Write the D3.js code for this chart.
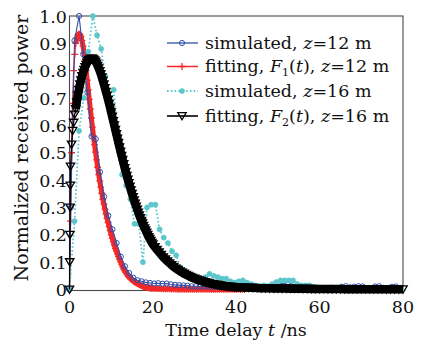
<!DOCTYPE html>
<html><head><meta charset="utf-8">
<script src="https://cdn.jsdelivr.net/npm/d3@7"></script>
<style>body{margin:0;background:#fff} text{font-family:"DejaVu Serif", serif;}</style>
</head><body><svg id="c" width="422" height="345"></svg>
<script>
// ---------- data ----------
const xTicks = [0, 20, 40, 60, 80];
const xTickLabels = ["0", "20", "40", "60", "80"];
const yTicks = [0, 0.1, 0.2, 0.3, 0.4, 0.5, 0.6, 0.7, 0.8, 0.9, 1.0];
const yTickLabels = ["0", "0.1", "0.2", "0.3", "0.4", "0.5", "0.6", "0.7", "0.8", "0.9", "1.0"];

// simulated, z = 12 m
const tBlue = [0, 0.3, 1.2].concat(d3.range(2.3, 79.4, 1));
const vBlue = [0, 0.3, 0.91,
  1.0, 0.86, 0.72, 0.56, 0.55, 0.43, 0.34, 0.27,
  0.22, 0.17, 0.12, 0.085, 0.06, 0.043, 0.034, 0.03, 0.026, 0.024,
  0.022, 0.023, 0.021, 0.022, 0.019, 0.017, 0.016, 0.015, 0.014, 0.012,
  0.012, 0.011, 0.010, 0.011, 0.009, 0.010, 0.009, 0.008, 0.009, 0.008,
  0.007, 0.008, 0.007, 0.006, 0.008, 0.007, 0.006, 0.007, 0.008, 0.012,
  0.02, 0.022, 0.018, 0.012, 0.008, 0.007, 0.008, 0.006, 0.007, 0.006,
  0.005, 0.006, 0.005, 0.006, 0.005, 0.010, 0.012, 0.008, 0.010, 0.012,
  0.011, 0.006, 0.005, 0.011, 0.012, 0.006, 0.005, 0.010, 0.011, 0.006];

// fitting F1(t), z = 12 m
const tRed = d3.range(0, 20.01, 0.25).concat(d3.range(20.5, 42.01, 0.5));
const vRed = [0, 0.25, 0.5, 0.68, 0.80, 0.86, 0.90, 0.92, 0.93, 0.935, 0.933, 0.925, 0.91, 0.89, 0.865, 0.835,
  0.80, 0.765, 0.73, 0.695, 0.66, 0.627, 0.594, 0.562, 0.53, 0.502, 0.474, 0.447, 0.42, 0.397, 0.374, 0.352,
  0.33, 0.312, 0.294, 0.277, 0.26, 0.245, 0.23, 0.215, 0.20, 0.187, 0.174, 0.162, 0.15, 0.14, 0.13, 0.12,
  0.11, 0.101, 0.092, 0.083, 0.075, 0.068, 0.062, 0.056, 0.05, 0.046, 0.042, 0.038, 0.035, 0.032, 0.029, 0.026,
  0.024, 0.022, 0.020, 0.018, 0.016, 0.014, 0.013, 0.011, 0.010, 0.009, 0.008, 0.007, 0.006, 0.0055, 0.005, 0.0045, 0.004,
  0.0035, 0.003, 0.003, 0.0025, 0.0025, 0.002, 0.002, 0.002, 0.0015, 0.0015,
  0.0015, 0.001, 0.001, 0.001, 0.001, 0.001, 0.0008, 0.0008, 0.0008, 0.0007,
  0.0007, 0.0006, 0.0006, 0.0006, 0.0005, 0.0005, 0.0005, 0.0004, 0.0004, 0.0004,
  0.0004, 0.0003, 0.0003, 0.0003, 0.0003, 0.0002, 0.0002, 0.0002, 0.0002, 0.0002,
  0.0001, 0.0001, 0.0001, 0.0001];

// simulated, z = 16 m
const tCyan = [0, 1.2, 2.3, 3.4, 4.5].concat(d3.range(5.6, 80, 1));
const vCyan = [0, 0.25, 0.58, 0.7, 0.87,
  1.0, 0.93, 0.88, 0.78, 0.65, 0.73, 0.55, 0.42, 0.38, 0.33,
  0.24, 0.24, 0.10, 0.30, 0.31, 0.31, 0.22, 0.19, 0.17, 0.14,
  0.125, 0.08, 0.07, 0.05, 0.04, 0.033, 0.03, 0.045, 0.057, 0.05,
  0.045, 0.04, 0.04, 0.03, 0.025, 0.03, 0.033, 0.025, 0.02, 0.015,
  0.012, 0.015, 0.012, 0.02, 0.027, 0.033, 0.033, 0.033, 0.033, 0.02,
  0.015, 0.015, 0.015, 0.01, 0.008, 0.005, 0.005, 0.008, 0.004,
  0.003, 0.004, 0.003, 0.002, 0.003, 0.002, 0.002, 0.003, 0.002, 0.002, 0.001, 0.002, 0.001, 0.001, 0.002, 0.001];

// fitting F2(t), z = 16 m
const tBlack = [0, 0.05, 0.1, 0.15, 0.2].concat(d3.range(0.25, 20.01, 0.25), d3.range(20.5, 40.01, 0.5), d3.range(41, 80.01, 1));
const vBlack = [0, 0.1, 0.2, 0.3, 0.38,
  0.45, 0.53, 0.58, 0.61, 0.64, 0.66, 0.685, 0.71, 0.73, 0.75, 0.765, 0.78, 0.792, 0.803, 0.813, 0.822,
  0.829, 0.835, 0.839, 0.842, 0.844, 0.844, 0.842, 0.838, 0.833, 0.826, 0.818, 0.809, 0.799, 0.788, 0.776, 0.763,
  0.75, 0.737, 0.723, 0.709, 0.694, 0.679, 0.664, 0.648, 0.632, 0.616, 0.6, 0.584, 0.568, 0.552, 0.536, 0.52,
  0.504, 0.489, 0.474, 0.459, 0.444, 0.43, 0.416, 0.402, 0.389, 0.376, 0.363, 0.35, 0.338, 0.326, 0.314, 0.303,
  0.292, 0.281, 0.271, 0.261, 0.251, 0.242, 0.233, 0.224, 0.216, 0.208, 0.2, 0.192, 0.185, 0.178, 0.171, 0.165,
  0.155, 0.145, 0.136, 0.127, 0.118, 0.11, 0.103, 0.096, 0.089, 0.083,
  0.077, 0.072, 0.067, 0.062, 0.058, 0.054, 0.05, 0.046, 0.043, 0.04,
  0.037, 0.034, 0.032, 0.029, 0.027, 0.025, 0.023, 0.021, 0.02, 0.018,
  0.017, 0.015, 0.014, 0.013, 0.012, 0.011, 0.01, 0.0095, 0.009, 0.008,
  0.0075, 0.007, 0.0065, 0.006, 0.0055, 0.005, 0.0047, 0.0044, 0.0041, 0.0038,
  0.0035, 0.0033, 0.0031, 0.0029, 0.0027, 0.0025, 0.0023, 0.0022, 0.002, 0.0019,
  0.0018, 0.0017, 0.0016, 0.0015, 0.0014, 0.0013, 0.0012, 0.0011, 0.0011, 0.001,
  0.001, 0.0009, 0.0009, 0.0008, 0.0008, 0.0007, 0.0007, 0.0006, 0.0006, 0.0006];

// ---------- drawing ----------
const svg = d3.select("#c");
const x = d3.scaleLinear().domain([0, 80]).range([69.5, 403]);
const y = d3.scaleLinear().domain([0, 1]).range([289.5, 16]);

const zip = (t, v) => t.slice(0, Math.min(t.length, v.length)).map((d, i) => [d, v[i]]);
const line = d3.line().x(d => x(d[0])).y(d => y(d[1]));

const sym = {
  circle: "M2.6,0A2.6,2.6,0,1,1,-2.6,0A2.6,2.6,0,1,1,2.6,0Z",
  plus: "M-3.4,0H3.4M0,-3.4V3.4",
  tri: "M-4.2,-3.4L4.2,-3.4L0,3.8Z"
};

const series = [
  {t: tBlue, v: vBlue, color: "#2f4fa8", lw: 1.1, band: 0, dash: null, sym: "circle", fill: "none", sw: 1, leg: 1.3},
  {t: tRed, v: vRed, color: "#f42828", lw: 1.3, band: 5, dash: null, sym: "plus", fill: "none", sw: 1.3, leg: 1.5},
  {t: tCyan, v: vCyan, color: "#5cc6cc", lw: 1.8, band: 0, dash: "1.6,2.2", sym: "circle", fill: "#5cc6cc", sw: 0.5, leg: 2},
  {t: tBlack, v: vBlack, color: "#000", lw: 1.2, band: 8.5, dash: null, sym: "tri", fill: "none", sw: 1.3, leg: 1.6}
];

// frame
svg.append("rect").attr("x", x(0)).attr("y", y(1)).attr("width", x(80) - x(0)).attr("height", y(0) - y(1) + 1)
  .attr("fill", "none").attr("stroke", "#4a4a4a").attr("stroke-width", 1.1);

const order = [1, 0, 2, 3];
order.forEach(k => {
  const s = series[k];
  const data = zip(s.t, s.v);
  if (s.band) {
    svg.append("path").attr("d", line(data.filter(d => d[0] >= 1.5))).attr("fill", "none").attr("stroke", s.color)
      .attr("stroke-width", s.band).attr("stroke-linejoin", "round");
  }
  svg.append("path").attr("d", line(data)).attr("fill", "none").attr("stroke", s.color)
    .attr("stroke-width", s.lw).attr("stroke-dasharray", s.dash);
  svg.append("g").selectAll("path").data(data).join("path")
    .attr("transform", d => `translate(${x(d[0])},${y(d[1])})`)
    .attr("d", sym[s.sym]).attr("fill", s.fill).attr("stroke", s.color).attr("stroke-width", s.sw);
});

// tick labels
svg.append("g").selectAll("text").data(xTicks).join("text")
  .attr("x", d => x(d)).attr("y", 313).attr("text-anchor", "middle")
  .style("font-size", "17.5px").attr("fill", "#111")
  .text((d, i) => xTickLabels[i]);
svg.append("g").selectAll("text").data(yTicks).join("text")
  .attr("x", 67).attr("y", d => y(d) + 6.5).attr("text-anchor", "end")
  .style("font-size", "17.5px").attr("fill", "#111")
  .text((d, i) => yTickLabels[i]);

// axis titles
const xt = svg.append("text").attr("x", 236).attr("y", 336).attr("text-anchor", "middle")
  .style("font-size", "17.5px").attr("fill", "#111");
xt.append("tspan").text("Time delay ");
xt.append("tspan").attr("font-style", "italic").text("t");
xt.append("tspan").text(" /ns");

svg.append("text").attr("transform", "translate(28,148) rotate(-90)").attr("text-anchor", "middle")
  .style("font-size", "19px").attr("fill", "#111")
  .text("Normalized received power");

// legend
const legRows = [
  {y: 43, parts: [["simulated, ", 0], ["z", 1], ["=12 m", 0]]},
  {y: 66.5, parts: [["fitting, ", 0], ["F", 1], ["1", 2], ["(", 3], ["t", 1], ["), ", 0], ["z", 1], ["=12 m", 0]]},
  {y: 91, parts: [["simulated, ", 0], ["z", 1], ["=16 m", 0]]},
  {y: 116, parts: [["fitting, ", 0], ["F", 1], ["2", 2], ["(", 3], ["t", 1], ["), ", 0], ["z", 1], ["=16 m", 0]]}
];
legRows.forEach((r, i) => {
  const s = series[i];
  svg.append("line").attr("x1", 167).attr("x2", 198).attr("y1", r.y).attr("y2", r.y)
    .attr("stroke", s.color).attr("stroke-width", s.leg).attr("stroke-dasharray", s.dash);
  svg.append("path").attr("transform", `translate(182,${r.y})`).attr("d", sym[s.sym])
    .attr("fill", s.fill).attr("stroke", s.color).attr("stroke-width", s.sw);
  const t = svg.append("text").attr("x", 205).attr("y", r.y + 5.5)
    .style("font-size", "17.5px").attr("fill", "#111");
  r.parts.forEach(p => {
    const ts = t.append("tspan").text(p[0]);
    if (p[1] === 1) ts.attr("font-style", "italic");
    if (p[1] === 2) ts.attr("dy", 4).style("font-size", "11px");
    if (p[1] === 3) ts.attr("dy", -4);
  });
});
</script>
</body></html>
